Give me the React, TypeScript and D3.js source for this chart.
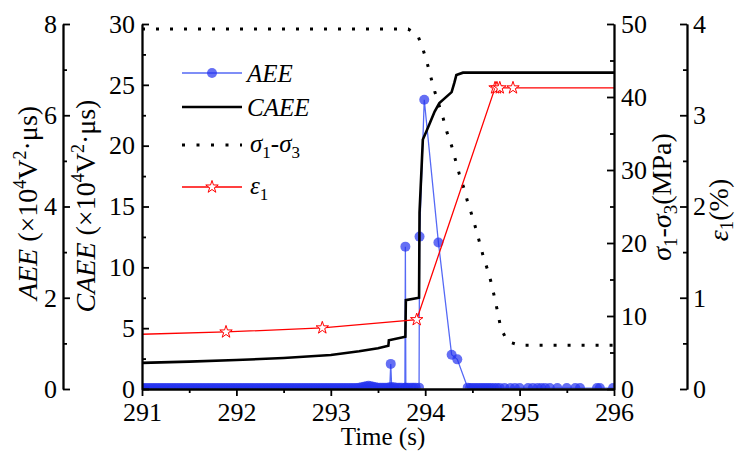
import React, { useEffect, useRef } from "react";
import * as d3 from "d3";

// ---- data ----
// time (s) vs cumulative AE energy (x10^4 V^2.us)
const caeeData: [number, number][] = [
  [291.0, 2.15], [291.5, 2.25], [292.0, 2.38], [292.5, 2.55], [293.0, 2.8],
  [293.3, 3.1], [293.5, 3.35], [293.61, 3.55], [293.615, 4.0], [293.79, 4.3],
  [293.795, 7.3], [293.935, 7.5], [293.94, 14.5], [293.975, 20.5], [294.02, 21.3],
  [294.1, 22.8], [294.15, 23.5], [294.28, 24.4], [294.31, 25.2], [294.33, 25.8],
  [294.4, 26.0], [296.0, 26.0],
];

// deviatoric stress (MPa)
const stressData: [number, number][] = [
  [291.0, 49.3], [293.82, 49.3], [293.92, 48.5], [293.98, 46.4], [294.02, 44.7],
  [294.06, 42.7], [294.1, 40.8], [294.19, 37.1], [294.23, 35.2], [294.28, 33.3],
  [294.32, 31.4], [294.36, 29.5], [294.41, 27.5], [294.45, 25.6], [294.5, 23.6],
  [294.54, 21.8], [294.58, 19.9], [294.62, 17.9], [294.67, 16.0], [294.71, 14.0],
  [294.74, 12.2], [294.77, 10.4], [294.8, 8.4], [294.87, 6.5], [295.0, 6.0],
  [296.0, 6.0],
];

// axial strain (%)
const strainData: [number, number][] = [
  [291.0, 0.6], [291.89, 0.625], [292.91, 0.67], [293.91, 0.76],
  [294.74, 3.3], [294.76, 3.3], [294.79, 3.3], [294.93, 3.3], [296.0, 3.3],
];

// AE energy per hit (x10^4 V^2.us)
const aeeData: [number, number][] = [
  [291.0, 0.02], [291.025, 0.02], [291.05, 0.02], [291.075, 0.02], [291.1, 0.02], [291.125, 0.02], [291.15, 0.02], [291.175, 0.02],
  [291.2, 0.02], [291.225, 0.02], [291.25, 0.02], [291.275, 0.02], [291.3, 0.02], [291.325, 0.02], [291.35, 0.02], [291.375, 0.02],
  [291.4, 0.02], [291.425, 0.02], [291.45, 0.02], [291.475, 0.02], [291.5, 0.02], [291.525, 0.02], [291.55, 0.02], [291.575, 0.02],
  [291.6, 0.02], [291.625, 0.02], [291.65, 0.02], [291.675, 0.02], [291.7, 0.02], [291.725, 0.02], [291.75, 0.02], [291.775, 0.02],
  [291.8, 0.02], [291.825, 0.02], [291.85, 0.02], [291.875, 0.02], [291.9, 0.02], [291.925, 0.02], [291.95, 0.02], [291.975, 0.02],
  [292.0, 0.02], [292.025, 0.02], [292.05, 0.02], [292.075, 0.02], [292.1, 0.02], [292.125, 0.02], [292.15, 0.02], [292.175, 0.02],
  [292.2, 0.02], [292.225, 0.02], [292.25, 0.02], [292.275, 0.02], [292.3, 0.02], [292.325, 0.02], [292.35, 0.02], [292.375, 0.02],
  [292.4, 0.02], [292.425, 0.02], [292.45, 0.02], [292.475, 0.02], [292.5, 0.02], [292.525, 0.02], [292.55, 0.02], [292.575, 0.02],
  [292.6, 0.02], [292.625, 0.02], [292.65, 0.02], [292.675, 0.02], [292.7, 0.02], [292.725, 0.02], [292.75, 0.02], [292.775, 0.02],
  [292.8, 0.02], [292.825, 0.02], [292.85, 0.02], [292.875, 0.02], [292.9, 0.02], [292.925, 0.02], [292.95, 0.02], [292.975, 0.02],
  [293.0, 0.02], [293.025, 0.02], [293.05, 0.02], [293.075, 0.02], [293.1, 0.02], [293.125, 0.02], [293.15, 0.02], [293.175, 0.02],
  [293.2, 0.02], [293.225, 0.02], [293.25, 0.02], [293.275, 0.02], [293.3, 0.03], [293.325, 0.04], [293.35, 0.05], [293.375, 0.06],
  [293.4, 0.07], [293.425, 0.06], [293.45, 0.05], [293.475, 0.04], [293.5, 0.03], [293.525, 0.03], [293.55, 0.03], [293.575, 0.03],
  [293.6, 0.03], [293.625, 0.04], [293.635, 0.55], [293.645, 0.04], [293.67, 0.04], [293.7, 0.03], [293.725, 0.03], [293.75, 0.03],
  [293.785, 0.03], [293.79, 3.12], [293.795, 0.03], [293.82, 0.03], [293.85, 0.03], [293.875, 0.03], [293.9, 0.03], [293.935, 0.03],
  [293.94, 3.34], [293.99, 6.34], [294.14, 3.21], [294.28, 0.75], [294.34, 0.65], [294.45, 0.03], [294.475, 0.02], [294.5, 0.02],
  [294.525, 0.02], [294.55, 0.02], [294.575, 0.02], [294.6, 0.02], [294.625, 0.02], [294.65, 0.02], [294.675, 0.02], [294.7, 0.02],
  [294.73, 0.02], [294.76, 0.02], [294.79, 0.02], [294.84, 0.02], [294.9, 0.02], [294.95, 0.02], [295.0, 0.02], [295.09, 0.02],
  [295.14, 0.02], [295.19, 0.02], [295.23, 0.02], [295.27, 0.02], [295.32, 0.02], [295.4, 0.02], [295.5, 0.02], [295.59, 0.02],
  [295.64, 0.02], [295.82, 0.02], [295.85, 0.02], [295.99, 0.02],
];

const timeTicks = [291, 292, 293, 294, 295, 296];
const aeeTicks = [0, 2, 4, 6, 8];
const caeeTicks = [0, 5, 10, 15, 20, 25, 30];
const stressTicks = [0, 10, 20, 30, 40, 50];
const strainTicks = [0, 1, 2, 3, 4];

const FONT = "'Liberation Serif','Times New Roman',serif";
const BLUE_LINE = "rgb(85,105,245)";
const BLUE_DOT = "rgb(35,50,240)";

const L = 142, R = 614, T = 24, B = 389;

export default function App() {
  const axesRef = useRef<SVGGElement>(null);

  const x = d3.scaleLinear().domain([291, 296]).range([L, R]);
  const yAee = d3.scaleLinear().domain([0, 8]).range([B, T]);
  const yCaee = d3.scaleLinear().domain([0, 30]).range([B, T]);
  const yStress = d3.scaleLinear().domain([0, 50]).range([B, T]);
  const yStrain = d3.scaleLinear().domain([0, 4]).range([B, T]);

  const mids = (t: number[]) => t.slice(1).map((v, i) => (v + t[i]) / 2);

  useEffect(() => {
    const g = d3.select(axesRef.current);
    g.selectAll("*").remove();

    const put = (axis: any, pos: string) => {
      const a = g.append("g").attr("transform", pos).call(axis);
      a.attr("font-size", 26).attr("font-family", FONT);
      a.selectAll("path,line").attr("stroke", "#000").attr("stroke-width", 1.8);
      a.selectAll("text").attr("fill", "#000");
    };

    const pair = (maker: any, scale: any, majors: number[], inner: number, pad: number, pos: string) => {
      put(maker(scale).tickValues(mids(majors)).tickSizeInner(inner > 0 ? 4 : -4).tickSizeOuter(0).tickFormat(() => ""), pos);
      put(maker(scale).tickValues(majors).tickSizeInner(inner).tickSizeOuter(0).tickPadding(pad).tickFormat(d3.format("d")), pos);
    };

    pair(d3.axisBottom, x, timeTicks, 7, 7, `translate(0,${B})`);
    pair(d3.axisLeft, yAee, aeeTicks, -7, 6, `translate(63,0)`);
    pair(d3.axisLeft, yCaee, caeeTicks, -7, 7, `translate(${L},0)`);
    pair(d3.axisRight, yStress, stressTicks, -7, 7, `translate(${R},0)`);
    pair(d3.axisRight, yStrain, strainTicks, -7, 6, `translate(687,0)`);
  }, []);

  const lineOf = (ys: d3.ScaleLinear<number, number>) =>
    d3.line<[number, number]>().x((d) => x(d[0])).y((d) => ys(d[1]));

  const star = d3.symbol().type(d3.symbolStar).size(48)()!;
  const starPts = strainData.filter((d) => d[0] > 291 && d[0] < 296);

  return (
    <svg width={738} height={454} style={{ position: "absolute", left: 0, top: 0, background: "#fff" }} fontFamily={FONT}>
      <defs>
        <clipPath id="plotclip">
          <rect x={L} y={T - 2} width={R - L} height={B - T + 1.5} />
        </clipPath>
      </defs>

      {/* stress, dotted */}
      <path d={lineOf(yStress)(stressData)!} fill="none" stroke="#000" strokeWidth={3} strokeDasharray="3 11" />

      {/* AEE */}
      <g clipPath="url(#plotclip)">
        <path d={lineOf(yAee)(aeeData)!} fill="none" stroke={BLUE_LINE} strokeWidth={1.3} />
        {aeeData.map((d, i) => (
          <circle key={i} cx={x(d[0])} cy={yAee(d[1])} r={5} fill={BLUE_DOT} fillOpacity={0.7} />
        ))}
      </g>

      {/* CAEE */}
      <path d={lineOf(yCaee)(caeeData)!} fill="none" stroke="#000" strokeWidth={2.6} strokeLinejoin="miter" />

      {/* strain */}
      <path d={lineOf(yStrain)(strainData)!} fill="none" stroke="#ff0000" strokeWidth={1.3} />
      {starPts.map((d, i) => (
        <path key={i} d={star} transform={`translate(${x(d[0])},${yStrain(d[1])})`} fill="#fff" stroke="#ff0000" strokeWidth={1} />
      ))}

      <g ref={axesRef} />

      {/* legend */}
      <g fontSize={25}>
        <line x1={182} x2={242} y1={73} y2={73} stroke={BLUE_LINE} strokeWidth={1.3} />
        <circle cx={212} cy={73} r={5} fill={BLUE_DOT} fillOpacity={0.7} />
        <text x={247} y={82} fontStyle="italic">AEE</text>

        <line x1={182} x2={242} y1={107} y2={107} stroke="#000" strokeWidth={2.6} />
        <text x={247} y={116} fontStyle="italic">CAEE</text>

        <line x1={182} x2={242} y1={145} y2={145} stroke="#000" strokeWidth={3} strokeDasharray="3 11.5" />
        <text x={250} y={152}>
          <tspan fontStyle="italic">σ</tspan><tspan dy={6} fontSize={17}>1</tspan>
          <tspan dy={-6}>-</tspan><tspan fontStyle="italic">σ</tspan><tspan dy={6} fontSize={17}>3</tspan>
        </text>

        <line x1={182} x2={242} y1={187} y2={187} stroke="#ff0000" strokeWidth={1.3} />
        <path d={star} transform="translate(212,187)" fill="#fff" stroke="#ff0000" strokeWidth={1} />
        <text x={250} y={194}>
          <tspan fontStyle="italic">ε</tspan><tspan dy={6} fontSize={17}>1</tspan>
        </text>
      </g>

      {/* axis titles */}
      <text transform="translate(37,203) rotate(-90)" textAnchor="middle" fontSize={28}>
        <tspan fontStyle="italic">AEE</tspan> (×10<tspan dy={-11} fontSize={18}>4</tspan>
        <tspan dy={11}>V</tspan><tspan dy={-11} fontSize={18}>2</tspan><tspan dy={11}>·μs)</tspan>
      </text>
      <text transform="translate(95,206) rotate(-90)" textAnchor="middle" fontSize={28}>
        <tspan fontStyle="italic">CAEE</tspan> (×10<tspan dy={-11} fontSize={18}>4</tspan>
        <tspan dy={11}>V</tspan><tspan dy={-11} fontSize={18}>2</tspan><tspan dy={11}>·μs)</tspan>
      </text>
      <text transform="translate(671,197) rotate(-90)" textAnchor="middle" fontSize={28}>
        <tspan fontStyle="italic">σ</tspan><tspan dy={6} fontSize={19}>1</tspan>
        <tspan dy={-6}>-</tspan><tspan fontStyle="italic">σ</tspan><tspan dy={6} fontSize={19}>3</tspan>
        <tspan dy={-6}>(MPa)</tspan>
      </text>
      <text transform="translate(728,210) rotate(-90)" textAnchor="middle" fontSize={28}>
        <tspan fontStyle="italic">ε</tspan><tspan dy={5} fontSize={19}>1</tspan>
        <tspan dy={-5}>(%)</tspan>
      </text>
      <text x={383} y={445} textAnchor="middle" fontSize={25}>Time (s)</text>
    </svg>
  );
}
